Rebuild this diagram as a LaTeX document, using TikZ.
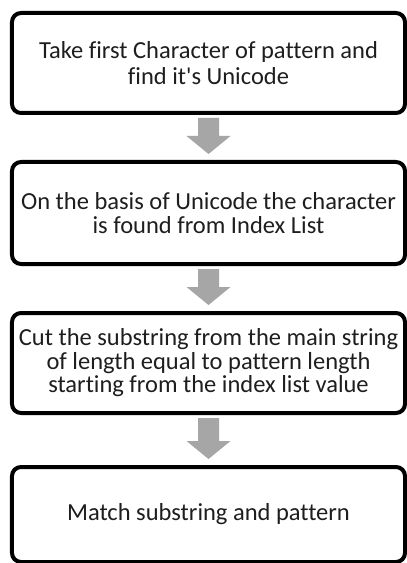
\documentclass[tikz,border=0pt]{standalone}
\usepackage{fontspec}
\setmainfont{Carlito}[Ligatures={NoCommon}]
\usetikzlibrary{calc}
\definecolor{arrowgray}{RGB}{166,166,166}
\definecolor{textdark}{RGB}{30,30,30}
\tikzset{
  stepbox/.style={draw=black, line width=4bp, rounded corners=9bp, fill=white,
    minimum width=393bp, inner sep=0pt, outer sep=0pt, align=center,
    font=\fontsize{24.5bp}{23.5bp}\selectfont, text=textdark},
  blockarrow/.style={fill=arrowgray, draw=none}
}
\newcommand{\blockarrow}[2]{%
  \fill[blockarrow]
    ($(#1.south)+(-10.5,5)$) --
    ($(#2.north)+(-10.5,-26)$) --
    ($(#2.north)+(-22,-26)$) --
    ($(#2.north)+(0,-8)$) --
    ($(#2.north)+(22,-26)$) --
    ($(#2.north)+(10.5,-26)$) --
    ($(#1.south)+(10.5,5)$) -- cycle;}
\begin{document}
\begin{tikzpicture}[x=1bp,y=-1bp]
\fill[white] (0,0) rectangle (406,563);
\useasboundingbox (0,0) rectangle (406,563);
\node[stepbox, minimum height=100bp, font=\fontsize{24.5bp}{26bp}\selectfont] (b1) at (208.5,63) {Take first Character of pattern and\\find it\textquotesingle s Unicode};
\node[stepbox, minimum height=102bp] (b2) at (208.5,213) {On the basis of Unicode the character\\is found from Index List};
\node[stepbox, minimum height=100bp] (b3) at (208.5,363) {Cut the substring from the main string\\of length equal to pattern length\\starting from the index list value};
\node[stepbox, minimum height=95bp] (b4) at (208.5,514.5) {Match substring and pattern};
\begin{scope}[xshift=2bp]
\blockarrow{b1}{b2}
\blockarrow{b2}{b3}
\blockarrow{b3}{b4}
\end{scope}
\end{tikzpicture}
\end{document}
